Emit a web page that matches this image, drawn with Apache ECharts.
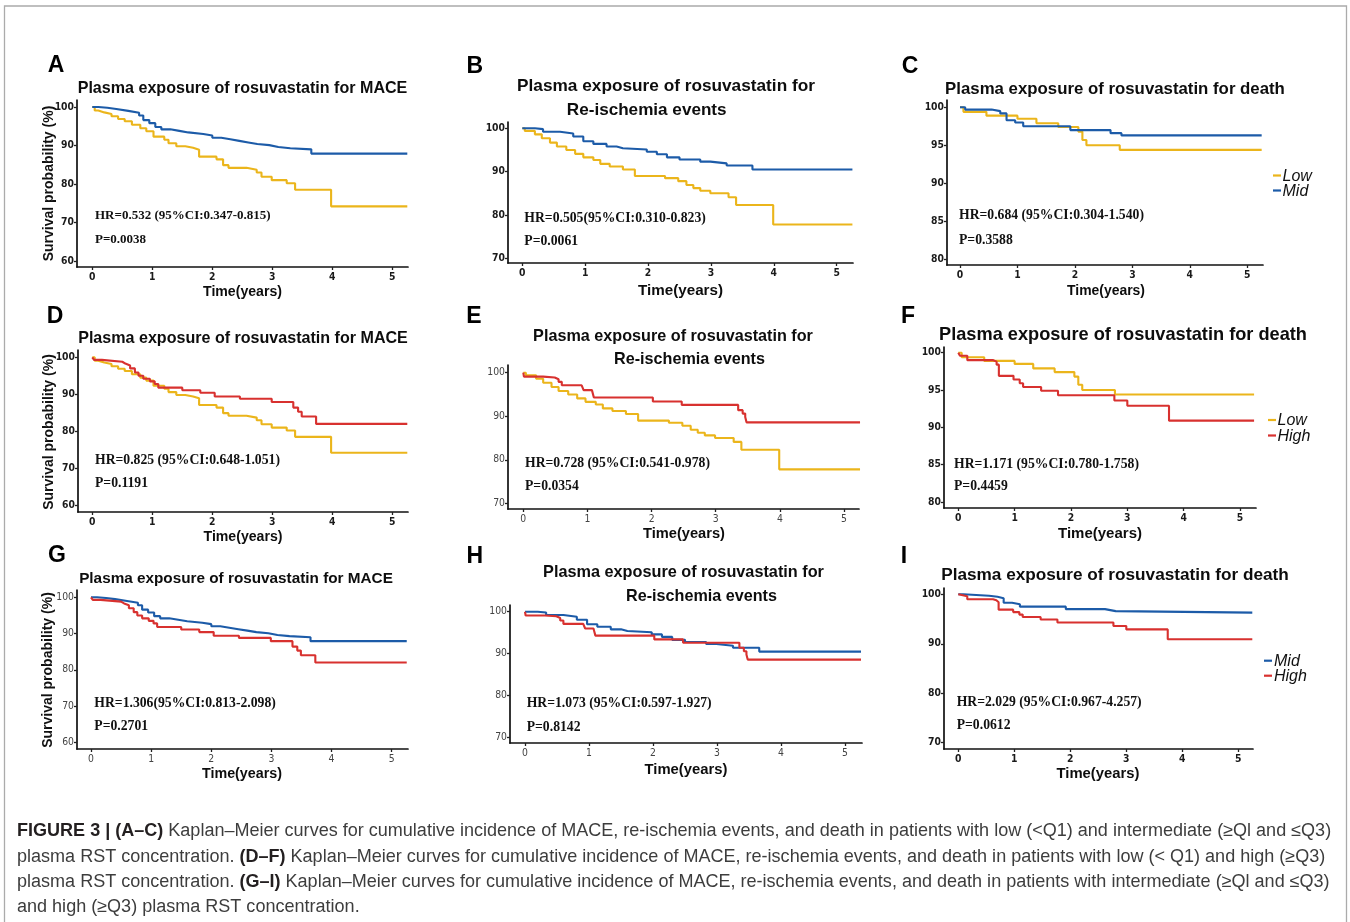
<!DOCTYPE html>
<html><head><meta charset="utf-8">
<script src="https://cdn.jsdelivr.net/npm/echarts@6/dist/echarts.min.js"></script>
<style>html,body{margin:0;padding:0;background:#fff;}#c{width:1350px;height:922px;}</style>
</head><body><div id="c"></div>
<script>
// ---------------- DATA ----------------
const xTicks = [0, 1, 2, 3, 4, 5];
const yTicksMACE = [60, 70, 80, 90, 100];
const yTicksReisch = [70, 80, 90, 100];
const yTicksDeath = [80, 85, 90, 95, 100];
const yTicksDeathMH = [70, 80, 90, 100];

// MACE
const maceLowT = [0, 0.04, 0.1, 0.2, 0.32, 0.43, 0.54, 0.66, 0.8, 0.9, 1.02, 1.2, 1.27, 1.4, 1.55, 1.68, 1.78, 2.07, 2.18, 2.27, 2.57, 2.74, 2.82, 2.99, 3.24, 3.38, 3.98, 5.25];
const maceLowS = [100, 99.1, 98.6, 98.2, 97.6, 96.9, 96.3, 95.4, 94.5, 93.7, 92.3, 91.5, 90.6, 89.8, 89.4, 88.9, 87.1, 86.4, 84.9, 84.2, 83.7, 83.0, 81.9, 81.0, 80.2, 78.5, 74.2, 74.2];
const maceMidT = [0, 0.1, 0.25, 0.4, 0.6, 0.78, 0.85, 0.95, 1.05, 1.15, 1.3, 1.45, 1.6, 1.85, 2.0, 2.15, 2.3, 2.45, 2.6, 2.75, 2.95, 3.1, 3.3, 3.65, 5.25];
const maceMidS = [100, 99.8, 99.5, 99.0, 98.5, 97.8, 96.6, 95.8, 94.8, 94.2, 93.8, 93.4, 93.0, 92.6, 92.0, 91.6, 91.2, 90.8, 90.4, 90.1, 89.6, 89.3, 89.0, 87.9, 87.9];
const maceHighT = [0, 0.03, 0.16, 0.5, 0.55, 0.63, 0.71, 0.77, 0.85, 0.96, 1.04, 1.1, 1.5, 1.8, 2.04, 2.46, 2.99, 3.35, 3.43, 3.49, 3.73, 5.25];
const maceHighS = [100, 99.3, 98.8, 98.3, 97.8, 97.0, 95.9, 95.0, 94.2, 93.5, 92.8, 91.8, 91.1, 90.4, 89.4, 88.8, 87.9, 86.4, 85.3, 84.0, 82.0, 82.0];

// Re-ischemia events
const reischLowT = [0, 0.04, 0.2, 0.31, 0.44, 0.55, 0.7, 0.84, 0.97, 1.13, 1.24, 1.39, 1.6, 1.79, 2.27, 2.48, 2.61, 2.72, 2.83, 2.99, 3.28, 3.4, 3.99, 5.25];
const reischLowS = [100, 99.4, 98.6, 97.7, 96.7, 95.8, 95.0, 94.1, 93.3, 92.7, 91.8, 91.2, 90.5, 89.0, 88.5, 87.8, 86.9, 86.2, 85.6, 85.0, 84.1, 82.3, 77.8, 77.8];
const reischMidT = [0, 0.2, 0.33, 0.6, 0.81, 0.97, 1.13, 1.34, 1.5, 1.6, 1.98, 2.14, 2.3, 2.5, 2.83, 2.99, 3.25, 3.66, 5.25];
const reischMidS = [100, 99.8, 99.2, 98.8, 98.1, 97.0, 96.4, 95.8, 95.4, 95.1, 94.6, 94.0, 93.3, 92.8, 92.3, 91.9, 91.4, 90.5, 90.5];
const reischHighT = [0, 0.01, 0.31, 0.49, 0.55, 0.6, 0.91, 0.94, 1.07, 1.1, 2.02, 2.47, 3.35, 3.42, 3.46, 3.48, 5.25];
const reischHighS = [100, 99.1, 98.9, 98.5, 97.9, 97.1, 96.8, 96.0, 95.6, 94.3, 93.4, 92.6, 91.4, 90.6, 89.8, 88.6, 88.6];

// Death
const deathLowT = [0, 0.06, 0.46, 1.0, 1.33, 1.71, 2.06, 2.13, 2.2, 2.78, 5.25];
const deathLowS = [100, 99.4, 98.9, 98.5, 97.9, 97.4, 96.8, 95.7, 95.0, 94.4, 94.4];
const deathMidT = [0, 0.09, 0.55, 0.7, 0.81, 0.96, 1.1, 1.92, 2.62, 2.81, 5.25];
const deathMidS = [100, 99.7, 99.5, 99.2, 98.3, 98.0, 97.5, 97.0, 96.6, 96.3, 96.3];
const deathHighT = [0, 0.03, 0.16, 0.62, 0.68, 0.72, 0.98, 1.09, 1.15, 1.47, 1.77, 2.77, 3.0, 3.74, 5.25];
const deathHighS = [100, 99.6, 99.0, 98.8, 98.4, 96.9, 96.4, 95.9, 95.4, 94.9, 94.3, 93.6, 92.9, 90.9, 90.9];

// Texts
const titleMACE = 'Plasma exposure of rosuvastatin for MACE';
const titleReisch1 = 'Plasma exposure of rosuvastatin for';
const titleReisch2 = 'Re-ischemia events';
const titleDeath = 'Plasma exposure of rosuvastatin for death';
const hrTexts = ['HR=0.532 (95%CI:0.347-0.815)', 'HR=0.505(95%CI:0.310-0.823)', 'HR=0.684 (95%CI:0.304-1.540)',
                 'HR=0.825 (95%CI:0.648-1.051)', 'HR=0.728 (95%CI:0.541-0.978)', 'HR=1.171 (95%CI:0.780-1.758)',
                 'HR=1.306(95%CI:0.813-2.098)', 'HR=1.073 (95%CI:0.597-1.927)', 'HR=2.029 (95%CI:0.967-4.257)'];
const pTexts = ['P=0.0038', 'P=0.0061', 'P=0.3588', 'P=0.1191', 'P=0.0354', 'P=0.4459', 'P=0.2701', 'P=0.8142', 'P=0.0612'];
const panelLetters = ['A', 'B', 'C', 'D', 'E', 'F', 'G', 'H', 'I'];
const xName = 'Time(years)';
const yName = 'Survival probability (%)';
const captionLines = [
  '{b|FIGURE 3 | (A–C)}{n| Kaplan–Meier curves for cumulative incidence of MACE, re-ischemia events, and death in patients with low (<Q1) and intermediate (≥Ql and ≤Q3)}',
  '{n|plasma RST concentration. }{b|(D–F)}{n| Kaplan–Meier curves for cumulative incidence of MACE, re-ischemia events, and death in patients with low (< Q1) and high (≥Q3)}',
  '{n|plasma RST concentration. }{b|(G–I)}{n| Kaplan–Meier curves for cumulative incidence of MACE, re-ischemia events, and death in patients with intermediate (≥Ql and ≤Q3)}',
  '{n|and high (≥Q3) plasma RST concentration.}'
];

// ---------------- STYLE / LAYOUT ----------------
const COLORS = { Low: '#EBB51B', Mid: '#1C5BA8', High: '#D8312F' };
const SANS = "'Liberation Sans', Arial, Helvetica, sans-serif";
const SERIF = "'Liberation Serif', 'Times New Roman', serif";
const mctx = document.createElement('canvas').getContext('2d');
function hasFont(f) {
  const s = 'abcdefghiWMl100';
  mctx.font = "100px '" + f + "', monospace"; const a = mctx.measureText(s).width;
  mctx.font = '100px monospace'; const b = mctx.measureText(s).width;
  return Math.abs(a - b) > 0.5;
}
let TICKFONT = SANS, TICKSIZE = 10.5;
if (hasFont('Liberation Sans Narrow')) { TICKFONT = "'Liberation Sans Narrow', " + SANS; TICKSIZE = 12; }
else if (hasFont('DejaVu Sans Condensed')) { TICKFONT = "'DejaVu Sans Condensed', " + SANS; TICKSIZE = 10.3; }
function fit(text, weight, family, target, style) {
  mctx.font = (style || 'normal') + ' ' + weight + ' 100px ' + family;
  return 100 * target / mctx.measureText(text).width;
}
function lin(p0, v0, p1, v1, p) { return v0 + (p - p0) * (v1 - v0) / (p1 - p0); }

const panels = [
  { box: [77, 100, 408, 267], xc: [92.3, 392.3], yc: [107, 100, 261, 60], yt: yTicksMACE,
    curves: [['Low', maceLowT, maceLowS], ['Mid', maceMidT, maceMidS]],
    titles: [[titleMACE, 242.5, 89, 330]], hr: [95, 215.7, 240], yname: [49, 183.5], time: [242.5, 292.5, 79], letter: [56, 66], bold: true },
  { box: [508, 122, 853, 263], xc: [522.3, 836.7], yc: [128.3, 100, 258.3, 70], yt: yTicksReisch,
    curves: [['Low', reischLowT, reischLowS], ['Mid', reischMidT, reischMidS]],
    titles: [[titleReisch1, 666, 86.5, 298], [titleReisch2, 646.7, 110.5, 160]], hr: [524.3, 218.3, 241.7], time: [680.5, 291, 85], letter: [474.7, 67], bold: true },
  { box: [947, 100, 1263, 265], xc: [960, 1247.3], yc: [107.3, 100, 259.3, 80], yt: yTicksDeath,
    curves: [['Low', deathLowT, deathLowS], ['Mid', deathMidT, deathMidS]],
    titles: [[titleDeath, 1115, 89, 340]], hr: [959, 215, 240], time: [1106, 291.5, 78], letter: [910, 67], bold: true,
    legend: { dash: [1273, 1281], tx: 1282.5, items: [['Low', 176.5], ['Mid', 191.5]] } },
  { box: [78, 350, 408, 512], xc: [92.3, 392.3], yc: [357.3, 100, 505.3, 60], yt: yTicksMACE,
    curves: [['Low', maceLowT, maceLowS], ['High', maceHighT, maceHighS]],
    titles: [[titleMACE, 243, 339, 330]], hr: [95, 460.7, 483.3], yname: [49, 432], time: [243, 537, 79], letter: [55, 316.5], bold: true },
  { box: [508, 365, 859, 509], xc: [523.3, 844], yc: [372.7, 100, 503.3, 70], yt: yTicksReisch,
    curves: [['Low', reischLowT, reischLowS], ['High', reischHighT, reischHighS]],
    titles: [[titleReisch1, 673, 337, 280], [titleReisch2, 689.5, 359.5, 151]], hr: [525, 463.3, 486.7], time: [684, 534, 82], letter: [474, 316.5], bold: false },
  { box: [944, 347, 1256, 508], xc: [958.3, 1240], yc: [352.7, 100, 502, 80], yt: yTicksDeath,
    curves: [['Low', deathLowT, deathLowS], ['High', deathHighT, deathHighS]],
    titles: [[titleDeath, 1123, 335, 368]], hr: [954, 464, 486], time: [1100, 534, 84], letter: [908, 317], bold: true,
    legend: { dash: [1268, 1276], tx: 1277.5, items: [['Low', 421], ['High', 436.5]] } },
  { box: [77, 590, 408, 749], xc: [91, 391.7], yc: [597.3, 100, 742.3, 60], yt: yTicksMACE,
    curves: [['Mid', maceMidT, maceMidS], ['High', maceHighT, maceHighS]],
    titles: [[titleMACE, 236, 579, 314]], hr: [94.3, 703.3, 726.7], yname: [48, 670], time: [242, 774, 80], letter: [57, 555.5], bold: false },
  { box: [510, 605, 862, 743], xc: [525, 845], yc: [611.7, 100, 737.7, 70], yt: yTicksReisch,
    curves: [['Mid', reischMidT, reischMidS], ['High', reischHighT, reischHighS]],
    titles: [[titleReisch1, 683.5, 572.5, 281], [titleReisch2, 701.5, 596.5, 151]], hr: [526.7, 703.3, 727.3], time: [686, 769.5, 83], letter: [474.7, 557], bold: false },
  { box: [944, 588, 1253, 749], xc: [958.3, 1238.3], yc: [594.3, 100, 742.7, 70], yt: yTicksDeathMH,
    curves: [['Mid', deathMidT, deathMidS], ['High', deathHighT, deathHighS]],
    titles: [[titleDeath, 1115, 575, 348]], hr: [956.7, 702.3, 725], time: [1098, 774, 83], letter: [904, 557], bold: true,
    legend: { dash: [1264, 1272], tx: 1274, items: [['Mid', 661.7], ['High', 676.7]] } }
];

function txt(x, y, text, font, fill, align, valign, extra) {
  return Object.assign({ type: 'text', x: x, y: y, silent: true, z: 10,
    style: { text: text, font: font, fill: fill, align: align, textAlign: align, verticalAlign: valign, textVerticalAlign: valign } }, extra || {});
}

const grids = [], xAxes = [], yAxes = [], series = [], graphics = [];
// border
graphics.push({ type: 'rect', silent: true, z: 1, shape: { x: 4.5, y: 6, width: 1342, height: 940 }, style: { fill: 'none', stroke: '#ababab', lineWidth: 1.3 } });

panels.forEach((p, i) => {
  const [l, t, r, b] = p.box;
  grids.push({ left: l, top: t, width: r - l, height: b - t, containLabel: false, outerBoundsMode: 'none' });
  const xmin = lin(p.xc[0], 0, p.xc[1], 5, l), xmax = lin(p.xc[0], 0, p.xc[1], 5, r);
  const ymax = lin(p.yc[0], p.yc[1], p.yc[2], p.yc[3], t), ymin = lin(p.yc[0], p.yc[1], p.yc[2], p.yc[3], b);
  const lab = { fontFamily: TICKFONT, fontSize: TICKSIZE, fontWeight: p.bold ? 'bold' : 'normal', color: p.bold ? '#1a1a1a' : '#444444' };
  xAxes.push({ gridIndex: i, type: 'value', min: xmin, max: xmax, position: 'bottom',
    axisLine: { show: true, onZero: false, lineStyle: { color: '#111', width: 1.7 } },
    axisTick: { show: true, length: 3, customValues: xTicks, lineStyle: { color: '#222', width: 1.3 } },
    axisLabel: Object.assign({ customValues: xTicks, margin: 5 }, lab),
    splitLine: { show: false } });
  yAxes.push({ gridIndex: i, type: 'value', min: ymin, max: ymax, position: 'left',
    axisLine: { show: true, onZero: false, lineStyle: { color: '#111', width: 1.7 } },
    axisTick: { show: true, length: 3, customValues: p.yt, lineStyle: { color: '#222', width: 1.3 } },
    axisLabel: Object.assign({ customValues: p.yt, margin: 3 }, lab),
    splitLine: { show: false } });
  p.curves.forEach(c => {
    series.push({ type: 'line', name: c[0], xAxisIndex: i, yAxisIndex: i, step: 'end', symbol: 'none', showSymbol: false,
      clip: true, silent: true, lineStyle: { color: COLORS[c[0]], width: 2.1 }, itemStyle: { color: COLORS[c[0]] },
      data: c[1].map((tv, k) => [tv, c[2][k]]) });
  });
  graphics.push(txt(p.letter[0], p.letter[1], panelLetters[i], 'bold 23px ' + SANS, '#000', 'center', 'middle'));
  p.titles.forEach(tt => {
    const fs = fit(tt[0], 'bold', SANS, tt[3]);
    graphics.push(txt(tt[1], tt[2], tt[0], 'bold ' + fs.toFixed(2) + 'px ' + SANS, '#0d0d0d', 'center', 'middle'));
  });
  const hrSize = i === 0 ? 13 : 13.7;
  graphics.push(txt(p.hr[0], p.hr[1], hrTexts[i], 'bold ' + hrSize + 'px ' + SERIF, '#111', 'left', 'middle'));
  graphics.push(txt(p.hr[0], p.hr[2], pTexts[i], 'bold ' + hrSize + 'px ' + SERIF, '#111', 'left', 'middle'));
  const tfs = fit(xName, 'bold', SANS, p.time[2]);
  graphics.push(txt(p.time[0], p.time[1], xName, 'bold ' + tfs.toFixed(2) + 'px ' + SANS, '#0d0d0d', 'center', 'middle'));
  if (p.yname) {
    graphics.push(txt(p.yname[0], p.yname[1], yName, 'bold 14px ' + SANS, '#111', 'center', 'middle', { rotation: Math.PI / 2 }));
  }
  if (p.legend) {
    p.legend.items.forEach(it => {
      graphics.push({ type: 'line', silent: true, z: 10, shape: { x1: p.legend.dash[0], y1: it[1] - 1, x2: p.legend.dash[1], y2: it[1] - 1 },
        style: { stroke: COLORS[it[0]], lineWidth: 2.2 } });
      graphics.push(txt(p.legend.tx, it[1], it[0], 'italic normal 16px ' + SANS, '#111', 'left', 'middle'));
    });
  }
});

// caption
(function () {
  mctx.font = 'bold 100px ' + SANS; const wb = mctx.measureText('FIGURE 3 | (A–C)').width;
  mctx.font = 'normal 100px ' + SANS;
  const wn = mctx.measureText(' Kaplan–Meier curves for cumulative incidence of MACE, re-ischemia events, and death in patients with low (<Q1) and intermediate (≥Ql and ≤Q3)').width;
  const cs = 100 * 1315 / (wb + wn);
  const ys = [831, 857, 882, 907];
  captionLines.forEach((line, k) => {
    graphics.push({ type: 'text', x: 17, y: ys[k], silent: true, z: 10,
      style: { text: line, align: 'left', textAlign: 'left', verticalAlign: 'middle', textVerticalAlign: 'middle',
        rich: {
          b: { fontFamily: SANS, fontSize: cs, fontWeight: 'bold', fill: '#231f20' },
          n: { fontFamily: SANS, fontSize: cs, fontWeight: 'normal', fill: '#3d3d3d' }
        } } });
  });
})();

const chart = echarts.init(document.getElementById('c'), null, { renderer: 'canvas', width: 1350, height: 922 });
chart.setOption({
  animation: false,
  backgroundColor: '#ffffff',
  grid: grids, xAxis: xAxes, yAxis: yAxes, series: series,
  graphic: { elements: graphics }
});
</script></body></html>
